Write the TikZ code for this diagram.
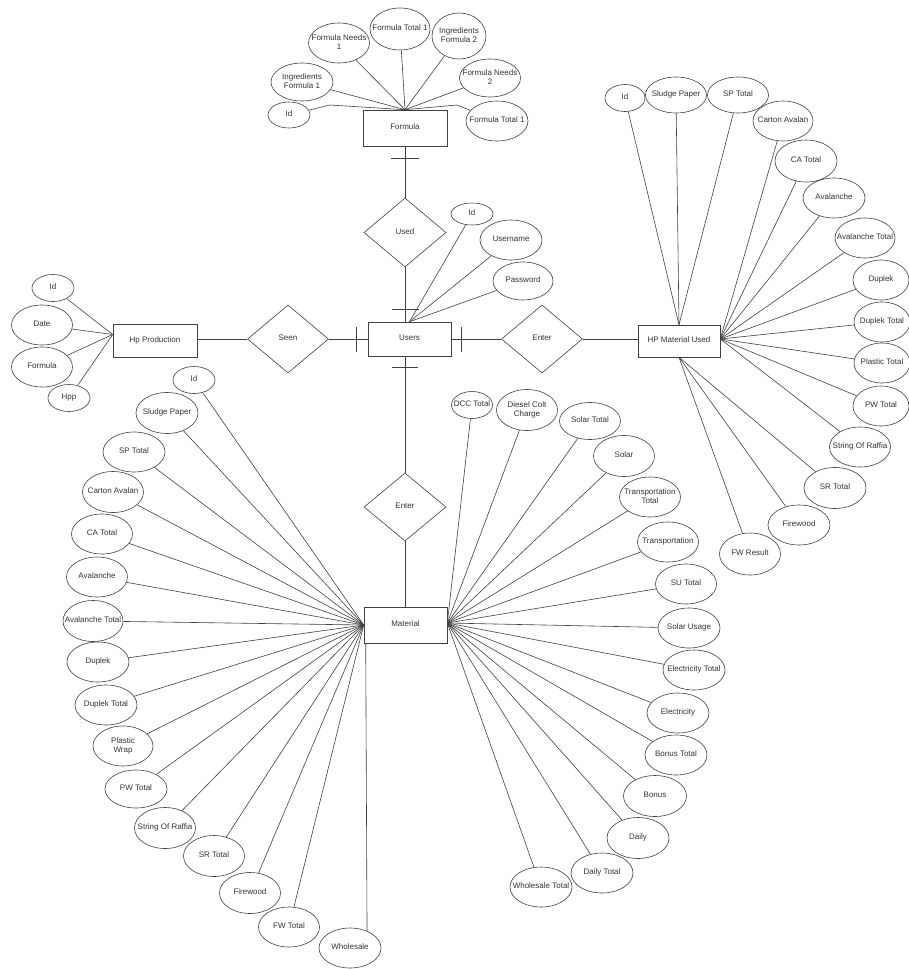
\documentclass[tikz,border=0pt]{standalone}
\usepackage{fontspec}
\setmainfont{Liberation Sans}
\usetikzlibrary{shapes.geometric}
\newcommand\lbl[1]{\makebox[0pt]{\begin{tabular}{@{}c@{}}#1\end{tabular}}}
\begin{document}
\begin{tikzpicture}[x=1pt,y=-1pt,
  every node/.style={font=\fontsize{8}{9}\selectfont, text=black!80},
  lnk/.style={draw=black!75, line width=0.6pt},
  attr/.style={ellipse, draw=black!75, line width=0.6pt, inner sep=0pt, minimum width=61pt, minimum height=40pt},
  ent/.style={rectangle, draw=black!75, line width=0.6pt, inner sep=0pt, minimum width=83pt, minimum height=34pt},
  rel/.style={diamond, draw=black!75, line width=0.6pt, inner sep=0pt, minimum width=82pt, minimum height=68pt},
  sz/.style 2 args={minimum width=#1pt, minimum height=#2pt}
]
\useasboundingbox (0,0) rectangle (908,969);
\fill[white] (0,0) rectangle (908,969);

% ---------- entities and relationships ----------
\node[ent, sz={84}{36}] (formula) at (405,128) {\lbl{Formula}};
\node[rel, sz={82}{69}] (used) at (405,232.5) {\lbl{Used}};
\node[ent, sz={83}{34}] (users) at (409.5,339) {\lbl{Users}};
\node[rel, sz={81}{68}] (seen) at (288,339) {\lbl{Seen}};
\node[rel, sz={81}{68}] (enterr) at (542,339) {\lbl{Enter}};
\node[rel, sz={82}{68}] (enterb) at (405,507) {\lbl{Enter}};
\node[ent, sz={84}{33}] (hpprod) at (155,340.5) {\lbl{Hp Production}};
\node[ent, sz={82}{32}] (hpm) at (679,341) {\lbl{HP Material Used}};
\node[ent, sz={83}{36}] (material) at (405.5,625) {\lbl{Material}};

% relationship connectors
\draw[lnk] (formula.south) -- (used.north);
\draw[lnk] (used.south) -- (used.south |- users.north);
\draw[lnk] (enterb.north |- users.south) -- (enterb.north);
\draw[lnk] (enterb.south) -- (enterb.south |- material.north);
\draw[lnk] (seen.east) -- (seen.east -| users.west);
\draw[lnk] (seen.west -| hpprod.east) -- (seen.west);
\draw[lnk] (enterr.west -| users.east) -- (enterr.west);
\draw[lnk] (enterr.east) -- (enterr.east -| hpm.west);

% bars (one marks)
\coordinate (bf) at ([yshift=-12pt]formula.south);
\draw[lnk] ([xshift=-14pt]bf) -- ([xshift=14pt]bf);
\coordinate (but) at ([yshift=12pt]used.south |- users.north);
\draw[lnk] ([xshift=-13.5pt]but) -- ([xshift=13.5pt]but);
\coordinate (bub) at ([yshift=-11pt]enterb.north |- users.south);
\draw[lnk] ([xshift=-13pt]bub) -- ([xshift=13pt]bub);
\coordinate (bul) at ([xshift=-11pt]users.west);
\draw[lnk] ([yshift=-12.5pt]bul) -- ([yshift=12.5pt]bul);
\coordinate (bur) at ([xshift=10pt]users.east);
\draw[lnk] ([yshift=-12.5pt]bur) -- ([yshift=12.5pt]bur);

% ---------- Formula attributes ----------
\node[attr, sz={42}{26}] (fid) at (289,115) {\lbl{Id}};
\node[attr, sz={62}{38}] (fing1) at (302,82) {\lbl{Ingredients\\Formula 1}};
\node[attr, sz={61}{40}] (fneed1) at (339,43) {\lbl{Formula Needs\\1}};
\node[attr, sz={60}{42}] (ftot1) at (400,29) {\lbl{Formula Total 1}};
\node[attr, sz={54}{46}] (fing2) at (459,36) {\lbl{Ingredients\\Formula 2}};
\node[attr, sz={61}{38}] (fneed2) at (490,78) {\lbl{Formula Needs\\2}};
\node[attr, sz={62}{40}] (ftot1b) at (497,121) {\lbl{Formula Total 1}};
\coordinate (fk1) at (330,105);
\coordinate (fk2) at (457,105);
\draw[lnk] (fid) -- (fk1) -- (formula.north);
\draw[lnk] (ftot1b) -- (fk2) -- (formula.north);
\foreach \a in {fing1,fneed1,ftot1,fing2,fneed2}
  \draw[lnk] (\a) -- (formula.north);

% ---------- Users attributes ----------
\node[attr, sz={42}{22}] (uid) at (472,214) {\lbl{Id}};
\node[attr, sz={62}{40}] (uname) at (511,240) {\lbl{Username}};
\node[attr, sz={60}{38}] (upass) at (523,281) {\lbl{Password}};
\foreach \a in {uid,uname,upass}
  \draw[lnk] (\a) -- (users.north);

% ---------- Hp Production attributes ----------
\node[attr, sz={42}{27}] (hid) at (53,288) {\lbl{Id}};
\node[attr, sz={61}{40}] (hdate) at (42,325) {\lbl{Date}};
\node[attr, sz={61}{40}] (hform) at (42,367) {\lbl{Formula}};
\node[attr, sz={42}{27}] (hhpp) at (69,398) {\lbl{Hpp}};
\coordinate (hpc) at ([yshift=6pt]hpprod.west);
\foreach \a in {hid,hdate,hform,hhpp}
  \draw[lnk] (\a) -- (hpc);

% ---------- HP Material Used attributes ----------
\node[attr, sz={40}{27}] (mid) at (625,98) {\lbl{Id}};
\node[attr, sz={61}{36}] (msp) at (676,95) {\lbl{Sludge Paper}};
\node[attr, sz={61}{36}] (mspt) at (738,95) {\lbl{SP Total}};
\node[attr, sz={60}{40}] (mca) at (783,121) {\lbl{Carton Avalan}};
\node[attr, sz={62}{42}] (mcat) at (806,161) {\lbl{CA Total}};
\node[attr, sz={62}{40}] (mav) at (834,198) {\lbl{Avalanche}};
\node[attr, sz={60}{40}] (mavt) at (865,238) {\lbl{Avalanche Total}};
\node[attr, sz={56}{40}] (mdup) at (881,280) {\lbl{Duplek}};
\node[attr, sz={56}{40}] (mdupt) at (882,322) {\lbl{Duplek Total}};
\node[attr, sz={56}{40}] (mplt) at (882,363) {\lbl{Plastic Total}};
\node[attr, sz={56}{40}] (mpwt) at (881,406) {\lbl{PW Total}};
\node[attr, sz={61}{40}] (msor) at (860,447) {\lbl{String Of Raffia}};
\node[attr, sz={62}{41}] (msrt) at (835,488) {\lbl{SR Total}};
\node[attr, sz={62}{40}] (mfw) at (799,525) {\lbl{Firewood}};
\node[attr, sz={61}{42}] (mfwr) at (750,554) {\lbl{FW Result}};
\coordinate (hpmt) at (hpm.north);
\coordinate (hpmr) at ([yshift=2pt]hpm.east);
\coordinate (hpmb) at (hpm.south);
\foreach \a in {mid,msp,mspt}
  \draw[lnk] (\a) -- (hpmt);
\foreach \a in {mca,mcat,mav,mavt,mdup,mdupt,mplt,mpwt,msor}
  \draw[lnk] (\a) -- (hpmr);
\foreach \a in {msrt,mfw,mfwr}
  \draw[lnk] (\a) -- (hpmb);

% ---------- Material attributes (left) ----------
\node[attr, sz={42}{27}] (lid) at (194,380) {\lbl{Id}};
\node[attr, sz={62}{41}] (lsp) at (167,413) {\lbl{Sludge Paper}};
\node[attr, sz={62}{40}] (lspt) at (134,452) {\lbl{SP Total}};
\node[attr, sz={61}{41}] (lca) at (113,492) {\lbl{Carton Avalan}};
\node[attr, sz={61}{40}] (lcat) at (102,534) {\lbl{CA Total}};
\node[attr, sz={61}{40}] (lav) at (97,577) {\lbl{Avalanche}};
\node[attr, sz={60}{41}] (lavt) at (93,621) {\lbl{Avalanche Total}};
\node[attr, sz={62}{40}] (ldup) at (98,662) {\lbl{Duplek}};
\node[attr, sz={62}{40}] (ldupt) at (106,705) {\lbl{Duplek Total}};
\node[attr, sz={60}{40}] (lpw) at (123,746) {\lbl{Plastic\\Wrap}};
\node[attr, sz={62}{38}] (lpwt) at (136,789) {\lbl{PW Total}};
\node[attr, sz={61}{41}] (lsor) at (165,828) {\lbl{String Of Raffia}};
\node[attr, sz={61}{41}] (lsrt) at (214,856) {\lbl{SR Total}};
\node[attr, sz={61}{41}] (lfw) at (250,893) {\lbl{Firewood}};
\node[attr, sz={61}{40}] (lfwt) at (289,927) {\lbl{FW Total}};
\node[attr, sz={62}{40}] (lws) at (350,948) {\lbl{Wholesale}};
\coordinate (matl) at (material.west);
\foreach \a in {lid,lsp,lspt,lca,lcat,lav,lavt,ldup,ldupt,lpw,lpwt,lsor,lsrt,lfw,lfwt}
  \draw[lnk] (\a) -- (matl);
\draw[lnk] (lws.45) -- ([xshift=2pt]material.south west);

% ---------- Material attributes (right) ----------
\node[attr, sz={41}{27}] (rdcc) at (472,405) {\lbl{DCC Total}};
\node[attr, sz={61}{41}] (rdch) at (527,410) {\lbl{Diesel Colt\\Charge}};
\node[attr, sz={61}{37}] (rsolt) at (590,421) {\lbl{Solar Total}};
\node[attr, sz={61}{41}] (rsol) at (624,456) {\lbl{Solar}};
\node[attr, sz={61}{40}] (rtrt) at (650,497) {\lbl{Transportation\\Total}};
\node[attr, sz={61}{40}] (rtr) at (668,542) {\lbl{Transportation}};
\node[attr, sz={61}{40}] (rsut) at (686,584) {\lbl{SU Total}};
\node[attr, sz={62}{40}] (rsu) at (689,628) {\lbl{Solar Usage}};
\node[attr, sz={62}{40}] (relt) at (694,670) {\lbl{Electricity Total}};
\node[attr, sz={62}{40}] (rel) at (678,713) {\lbl{Electricity}};
\node[attr, sz={62}{40}] (rbt) at (676,755) {\lbl{Bonus Total}};
\node[attr, sz={63}{41}] (rb) at (655,796) {\lbl{Bonus}};
\node[attr, sz={62}{41}] (rd) at (638,838) {\lbl{Daily}};
\node[attr, sz={62}{40}] (rdt) at (602,873) {\lbl{Daily Total}};
\node[attr, sz={62}{40}] (rwt) at (541,887) {\lbl{Wholesale Total}};
\coordinate (matr) at ([yshift=2pt]material.east);
\foreach \a in {rdcc,rdch,rsolt,rsol,rtrt,rtr,rsut,rsu,relt,rel,rbt,rb,rd,rdt,rwt}
  \draw[lnk] (\a) -- (matr);
\end{tikzpicture}
\end{document}
